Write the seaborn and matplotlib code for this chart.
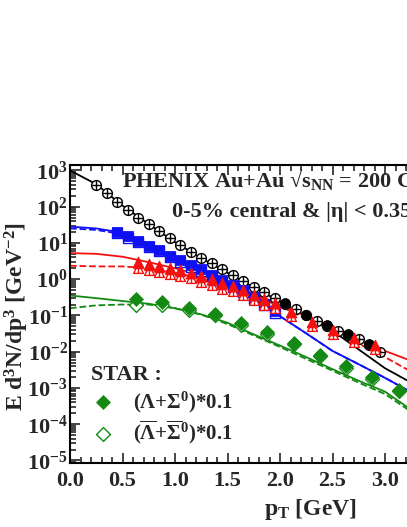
import numpy as np
import pandas as pd
import matplotlib
matplotlib.use("Agg")
import matplotlib.pyplot as plt
import matplotlib.ticker as mticker
import seaborn as sns

# ── Data ─────────────────────────────────────────────────────────────────────

PT_LINE = [0.0, 0.25, 0.5, 0.75, 1.0, 1.25, 1.5, 1.75, 2.0, 2.25, 2.5, 2.75, 3.0, 3.25, 3.5]

PI_LINE = [1000, 417, 107, 33, 10.5, 3.8, 1.5, 0.60, 0.24, 0.095, 0.038, 0.0115, 0.0035, 0.0014, 0.00056]
K_LINE = [28.2, 25.1, 19.1, 9.5, 4.0, 1.78, 0.76, 0.30, 0.095, 0.032, 0.0105, 0.0045, 0.0019, 0.00076, 0.00032]
K_LINE_DASH = [25.1, 22.9, 17.4, 9.1, 4.0, 1.78, 0.76, 0.30, 0.095, 0.032, 0.0105, 0.0045, 0.0019, 0.00076, 0.00032]
P_LINE = [5.25, 5.0, 4.17, 2.95, 2.0, 1.26, 0.76, 0.40, 0.20, 0.095, 0.045, 0.021, 0.0105, 0.0056, 0.0028]
P_LINE_DASH = [2.35, 2.25, 2.25, 2.0, 1.5, 1.05, 0.66, 0.355, 0.178, 0.083, 0.038, 0.0166, 0.0071, 0.0028, 0.00126]
L_LINE = [0.355, 0.30, 0.25, 0.21, 0.158, 0.107, 0.063, 0.030, 0.0148, 0.0071, 0.0033, 0.00158, 0.00079, 0.00025, 0.0001]
L_LINE_DASH = [0.158, 0.19, 0.2, 0.2, 0.158, 0.105, 0.058, 0.028, 0.0135, 0.0063, 0.003, 0.0014, 0.00068, 0.00022, 0.00009]

PT_PI = [0.25, 0.35, 0.45, 0.55, 0.65, 0.75, 0.85, 0.95, 1.05, 1.15, 1.25, 1.35, 1.45, 1.55,
         1.65, 1.75, 1.85, 1.95, 2.05, 2.15, 2.25, 2.35, 2.45, 2.55, 2.65, 2.75, 2.85, 2.95]
PI_OPEN = [398, 234, 138, 81, 50, 33, 21.4, 13.5, 8.7, 5.75, 3.8, 2.75, 1.9, 1.32,
           0.89, 0.62, 0.457, 0.309, 0.209, 0.148, 0.10, 0.072, 0.05, 0.038, 0.029, 0.0224, 0.0155, 0.010]
PT_PI_FILL = [2.05, 2.25, 2.45, 2.65, 2.85]
PI_FILL = [0.215, 0.105, 0.054, 0.030, 0.0165]

PT_K = [0.45, 0.55, 0.65, 0.75, 0.85, 0.95, 1.05, 1.15, 1.25, 1.35, 1.45, 1.55, 1.65, 1.75, 1.85, 1.95]
K_FILL = [20.4, 15.5, 11.5, 8.3, 6.5, 4.4, 3.3, 2.45, 1.86, 1.32, 0.95, 0.69, 0.50, 0.32, 0.21, 0.13]
K_OPEN = [18.5, 14.0, 10.5, 7.6, 5.9, 4.0, 3.0, 2.2, 1.7, 1.2, 0.86, 0.62, 0.45, 0.29, 0.19, 0.12]

PT_P = [0.65, 0.75, 0.85, 0.95, 1.05, 1.15, 1.25, 1.35, 1.45, 1.55, 1.65, 1.75, 1.85, 1.95,
        2.1, 2.3, 2.5, 2.7, 2.9]
P_FILL = [3.0, 2.63, 2.34, 2.0, 1.74, 1.51, 1.2, 1.0, 0.78, 0.65, 0.50, 0.37, 0.28, 0.224,
          0.126, 0.068, 0.040, 0.0234, 0.0155]
P_OPEN = [2.0, 1.8, 1.6, 1.4, 1.2, 1.05, 0.85, 0.7, 0.55, 0.46, 0.36, 0.27, 0.2, 0.16,
          0.095, 0.052, 0.031, 0.018, 0.012]

PT_L = [0.63, 0.88, 1.13, 1.38, 1.63, 1.88, 2.13, 2.38, 2.63, 2.88, 3.13]
L_FILL = [0.28, 0.23, 0.158, 0.112, 0.06, 0.035, 0.0178, 0.0083, 0.004, 0.00195, 0.00089]
L_OPEN = [0.195, 0.19, 0.14, 0.1, 0.054, 0.031, 0.016, 0.0075, 0.0036, 0.0018, 0.0008]

BLACK, BLUE, RED, GREEN = "#000000", "#1010f5", "#f51010", "#138a13"

# ── Style ────────────────────────────────────────────────────────────────────

sns.set_theme(style="ticks")
plt.rcParams["font.family"] = ["Liberation Serif", "DejaVu Serif"]
plt.rcParams["font.weight"] = "bold"
plt.rcParams["axes.labelweight"] = "bold"
plt.rcParams["mathtext.fontset"] = "custom"
plt.rcParams["mathtext.rm"] = "Liberation Serif:bold"
plt.rcParams["mathtext.it"] = "Liberation Serif:italic:bold"
plt.rcParams["mathtext.bf"] = "Liberation Serif:bold"
plt.rcParams["mathtext.default"] = "rm"

fig = plt.figure(figsize=(4.07, 5.27), dpi=100)
ax = fig.add_axes([70 / 407, 64 / 527, 367.5 / 407, 298 / 527])
ax.set_yscale("log")

# ── Theory curves ────────────────────────────────────────────────────────────

lw = 1.3
for vals, col, ls in [
    (PI_LINE, BLACK, "-"),
    (K_LINE_DASH, BLUE, "--"), (K_LINE, BLUE, "-"),
    (P_LINE_DASH, RED, "--"), (P_LINE, RED, "-"),
    (L_LINE_DASH, GREEN, "--"), (L_LINE, GREEN, "-"),
]:
    sns.lineplot(x=PT_LINE, y=vals, color=col, linestyle=ls, linewidth=lw, ax=ax, zorder=2)

# ── Data points ──────────────────────────────────────────────────────────────

ms = 50
sns.scatterplot(x=PT_PI, y=PI_OPEN, marker="o", s=ms, facecolor="white", edgecolor=BLACK,
                linewidth=1.0, ax=ax, zorder=3)
sns.scatterplot(x=PT_PI, y=PI_OPEN, marker="+", s=ms, color=BLACK, linewidth=1.0, ax=ax, zorder=4)
sns.scatterplot(x=PT_PI_FILL, y=PI_FILL, marker="o", s=ms, color=BLACK, edgecolor=BLACK,
                ax=ax, zorder=5)

sns.scatterplot(x=PT_K, y=K_OPEN, marker="s", s=ms, facecolor="white", edgecolor=BLUE,
                linewidth=1.0, ax=ax, zorder=3)
sns.scatterplot(x=PT_K, y=K_FILL, marker="s", s=ms, color=BLUE, edgecolor=BLUE, ax=ax, zorder=4)

sns.scatterplot(x=PT_P, y=P_OPEN, marker="^", s=ms, facecolor="white", edgecolor=RED,
                linewidth=1.0, ax=ax, zorder=5)
sns.scatterplot(x=PT_P, y=P_OPEN, marker="+", s=ms, color=RED, linewidth=1.0, ax=ax, zorder=5)
sns.scatterplot(x=PT_P, y=P_FILL, marker="^", s=ms * 1.2, color=RED, edgecolor=RED, ax=ax, zorder=6)

sns.scatterplot(x=PT_L, y=L_OPEN, marker="D", s=ms, facecolor="white", edgecolor=GREEN,
                linewidth=1.0, ax=ax, zorder=3,
                label=r"($\overline{\mathrm{Λ}}$+$\overline{\mathrm{Σ}}^{0}$)*0.1")
sns.scatterplot(x=PT_L, y=L_FILL, marker="D", s=ms, color=GREEN, edgecolor=GREEN, ax=ax, zorder=4,
                label=r"(Λ+Σ$^{0}$)*0.1")

# ── Axes ─────────────────────────────────────────────────────────────────────

ax.set_xlim(0, 3.5)
ax.set_ylim(10 ** -5.07, 10 ** 3.15)
ax.xaxis.set_major_locator(mticker.MultipleLocator(0.5))
ax.xaxis.set_minor_locator(mticker.MultipleLocator(0.1))
ax.xaxis.set_major_formatter(mticker.FormatStrFormatter("%.1f"))
ax.yaxis.set_major_locator(mticker.LogLocator(base=10, numticks=20))
ax.yaxis.set_minor_locator(mticker.LogLocator(base=10, subs=np.arange(2, 10), numticks=20))
ax.yaxis.set_minor_formatter(mticker.NullFormatter())
ax.tick_params(which="both", direction="in", top=True, right=True, width=1.2, labelsize=16)
ax.tick_params(which="major", length=7)
ax.tick_params(which="minor", length=4)
ax.tick_params(axis="y", which="both", pad=1.5)
ax.tick_params(axis="x", which="both", pad=6)
for sp in ax.spines.values():
    sp.set_linewidth(1.5)
    sp.set_color("black")

ax.set_xlabel(r"p$_\mathrm{T}$ [GeV]", fontsize=17)
ax.xaxis.set_label_coords(0.653, -0.115)
ax.set_ylabel(r"E d$^{3}$N/dp$^{3}$ [GeV$^{-2}$]", fontsize=17)
ax.yaxis.set_label_coords(-0.105, 0.49)

ax.text(0.1415, 0.95, r"PHENIX Au+Au √s$_\mathrm{NN}$ = 200 GeV", transform=ax.transAxes,
        fontsize=16, va="center", ha="left")
ax.text(0.278, 0.842, r"0-5% central & |η| < 0.35", transform=ax.transAxes,
        fontsize=16, va="center", ha="left")

handles, labels = ax.get_legend_handles_labels()
leg = ax.legend(handles[::-1], labels[::-1], loc="upper left", bbox_to_anchor=(0.057, 0.328),
                frameon=False, title="STAR :", fontsize=15, labelspacing=0.2,
                handlelength=1.15, handletextpad=0.87, borderpad=0, borderaxespad=0,
                title_fontproperties={"size": 16, "weight": "bold"})
leg._legend_box.align = "left"

fig.savefig("out.png", dpi=100)
